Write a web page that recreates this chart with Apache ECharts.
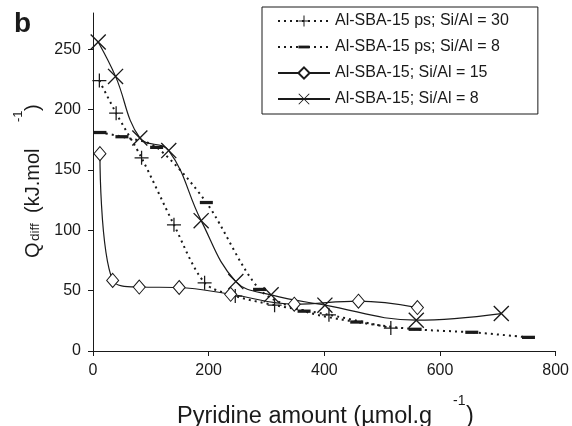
<!DOCTYPE html>
<html>
<head>
<meta charset="utf-8">
<script src="https://cdn.jsdelivr.net/npm/echarts@6/dist/echarts.min.js"></script>
<style>html,body{margin:0;padding:0;background:#fff}#c{width:572px;height:426px}</style>
</head>
<body>
<div id="c"></div>
<script>
// ---- data ----
var seriesNames = ['Al-SBA-15 ps; Si/Al = 30', 'Al-SBA-15 ps; Si/Al = 8', 'Al-SBA-15; Si/Al = 15', 'Al-SBA-15; Si/Al = 8'];
var ps30X = [11, 40, 84, 140, 193, 246, 314, 408, 515];
var ps30Y = [224, 197, 160, 104.5, 56.5, 45.5, 38, 30, 19];
var ps8X = [12, 50, 110, 196, 288, 365, 456, 557, 655, 753];
var ps8Y = [181, 177.5, 168.7, 123, 51, 33, 24, 18, 15.5, 11.3];
var s15X = [12, 34, 80, 149, 238, 348, 459, 561];
var s15Y = [163.5, 58.5, 53, 52.6, 47, 38.8, 41.3, 36];
var s8X = [9, 39, 81, 131, 187, 247, 308, 401, 559, 706];
var s8Y = [256, 227.5, 176.5, 166, 108, 57.5, 46.5, 38, 25.5, 31];
var xTicks = [0, 200, 400, 600, 800];
var yTicks = [0, 50, 100, 150, 200, 250];

function pairs(xs, ys) { return xs.map(function (x, i) { return [x, ys[i]]; }); }

var INK = '#1a1a1a';
var FONT = 'Liberation Sans, Arial, sans-serif';
var plusPath = 'path://M4.55,0H5.45V10H4.55Z M0,4.55H10V5.45H0Z';
var crossPath = 'path://M0,0.6L0.6,0L10,9.4L9.4,10Z M9.4,0L10,0.6L0.6,10L0,9.4Z';
var dashPath = 'path://M0,0 M0,4.5H12V7.5H0Z M12,12';

function txt(s, x, y, size) {
  return {type: 'text', x: x, y: y,
    style: {text: s, fontSize: size, fontFamily: FONT, fill: INK, align: 'left', verticalAlign: 'middle'}};
}

var chart = echarts.init(document.getElementById('c'), null, {renderer: 'canvas'});
chart.setOption({
  animation: false,
  backgroundColor: '#fff',
  textStyle: {fontFamily: FONT, color: INK},
  grid: {left: 93, right: 15, top: 13, bottom: 75, containLabel: false},
  legend: {
    left: 262, top: 7, orient: 'vertical',
    padding: [6, 29, 7, 15],
    borderColor: INK, borderWidth: 1, backgroundColor: '#fff',
    itemWidth: 52, itemHeight: 14, itemGap: 10,
    textStyle: {fontSize: 16, color: INK, fontFamily: FONT, lineHeight: 16},
    data: seriesNames
  },
  xAxis: {
    type: 'value', min: 0, max: 800, interval: 200,
    axisLine: {lineStyle: {color: INK, width: 1}},
    axisTick: {length: 5, lineStyle: {color: INK}},
    axisLabel: {fontSize: 16, color: INK, margin: 12, fontFamily: FONT, customValues: xTicks},
    splitLine: {show: false}
  },
  yAxis: {
    type: 'value', min: 0, max: 280, interval: 50,
    axisLine: {show: true, lineStyle: {color: INK, width: 1}},
    axisTick: {show: true, length: 5, lineStyle: {color: INK}, customValues: yTicks},
    axisLabel: {fontSize: 16, color: INK, margin: 12, fontFamily: FONT, customValues: yTicks},
    splitLine: {show: false}
  },
  series: [
    {
      name: seriesNames[0], type: 'line', data: pairs(ps30X, ps30Y), smooth: 0.3,
      symbol: plusPath, symbolSize: 14, showAllSymbol: true,
      lineStyle: {color: INK, width: 2, type: [2, 4]},
      itemStyle: {color: INK}, z: 3
    },
    {
      name: seriesNames[1], type: 'line', data: pairs(ps8X, ps8Y), smooth: 0.3,
      symbol: dashPath, symbolSize: 13, showAllSymbol: true,
      lineStyle: {color: INK, width: 2, type: [2, 4]},
      itemStyle: {color: INK}, z: 3
    },
    {
      name: seriesNames[2], type: 'line', data: pairs(s15X, s15Y), smooth: 0.4,
      symbol: 'diamond', symbolSize: [12, 14], showAllSymbol: true,
      lineStyle: {color: INK, width: 1.2},
      itemStyle: {color: '#fff', borderColor: INK, borderWidth: 1}, z: 4
    },
    {
      name: seriesNames[3], type: 'line', data: pairs(s8X, s8Y), smooth: 0.4,
      symbol: crossPath, symbolSize: 16, showAllSymbol: true,
      lineStyle: {color: INK, width: 1.2},
      itemStyle: {color: INK}, z: 4
    }
  ],
  graphic: [
    {
      type: 'text', left: 14, top: 10,
      style: {text: 'b', fontSize: 28, fontWeight: 'bold', fontFamily: FONT, fill: INK}
    },
    {
      type: 'group', x: 0, y: 0,
      children: [
        txt('Pyridine amount (µmol.g', 177, 416.8, 23.5),
        txt('-1', 453, 401, 14),
        txt(')', 466, 416.8, 23.5)
      ]
    },
    {
      type: 'group', x: 40, y: 258, rotation: Math.PI / 2,
      children: [
        txt('Q', 0, -7, 20),
        txt('diff', 17, -4.5, 13.5),
        txt('(kJ.mol', 45, -7, 20),
        txt('-1', 136, -22, 13),
        txt(')', 147, -7, 20)
      ]
    }
  ]
});
</script>
</body>
</html>
